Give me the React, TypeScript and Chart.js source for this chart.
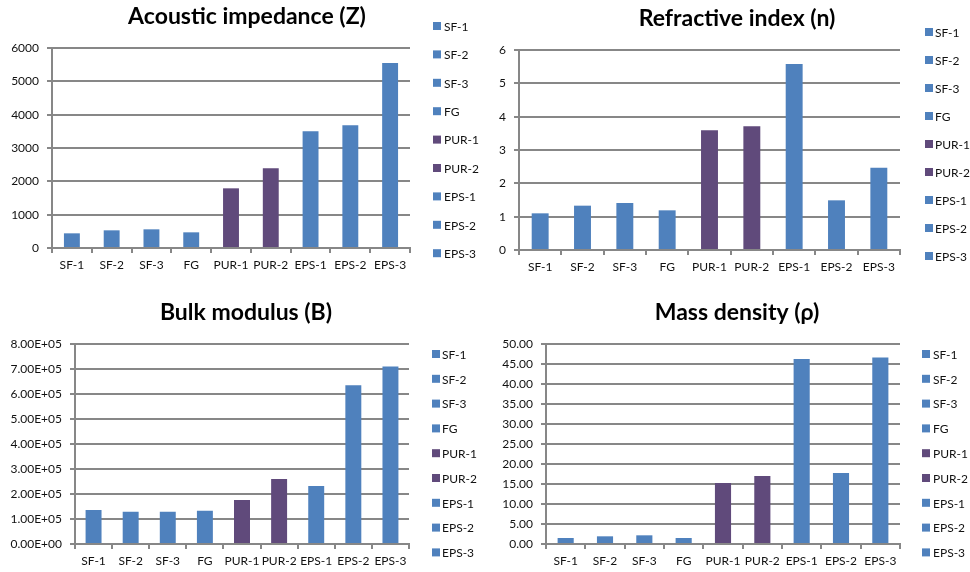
import React, { useEffect, useRef } from "react";
import { Chart, registerables } from "chart.js";

Chart.register(...registerables);

// Samples shown on every panel
const categories = ["SF-1", "SF-2", "SF-3", "FG", "PUR-1", "PUR-2", "EPS-1", "EPS-2", "EPS-3"];

// Measured properties per sample
const acousticImpedance = [440, 530, 560, 470, 1790, 2390, 3500, 3680, 5550];
const refractiveIndex = [1.1, 1.33, 1.41, 1.19, 3.59, 3.71, 5.58, 1.49, 2.47];
const bulkModulus = [1.36e5, 1.29e5, 1.29e5, 1.33e5, 1.76e5, 2.6e5, 2.32e5, 6.35e5, 7.1e5];
const massDensity = [1.5, 1.92, 2.17, 1.5, 15.25, 17.0, 46.25, 17.75, 46.6];

// Value-axis ranges: [min, max, step]
const impedanceAxis = [0, 6000, 1000];
const refractiveAxis = [0, 6, 1];
const bulkAxis = [0, 8e5, 1e5];
const densityAxis = [0, 50, 5];

const BLUE = "#4F81BD";
const PURPLE = "#604A7B";
const GRID = "#878787";
const TEXT = "#111111";
const FONT = "Lato, 'Open Sans', sans-serif";

const barColors = categories.map((c) => (c.startsWith("PUR") ? PURPLE : BLUE));

const W = 485;
const H = 286;

const sci = (v: number) => {
  const [m, e] = v.toExponential(2).split("e");
  const n = parseInt(e, 10);
  return `${m}E${n < 0 ? "-" : "+"}${String(Math.abs(n)).padStart(2, "0")}`;
};

type Panel = {
  title: string;
  values: number[];
  axis: number[];
  format: (v: number) => string;
  area: { left: number; top: number; right: number; bottom: number };
  titleAt: { x: number; y: number };
  legend: { boxX: number; textX: number; y0: number; step: number };
  barPct: number;
  pos: { x: number; y: number };
};

const panels: Panel[] = [
  {
    title: "Acoustic impedance (Z)",
    values: acousticImpedance,
    axis: impedanceAxis,
    format: (v) => String(v),
    area: { left: 52, top: 48, right: 410, bottom: 248 },
    titleAt: { x: 247, y: 17 },
    legend: { boxX: 433, textX: 444, y0: 26, step: 28.4 },
    barPct: 0.4,
    pos: { x: 0, y: 0 },
  },
  {
    title: "Refractive index (n)",
    values: refractiveIndex,
    axis: refractiveAxis,
    format: (v) => String(v),
    area: { left: 34, top: 50, right: 415, bottom: 250 },
    titleAt: { x: 252, y: 19 },
    legend: { boxX: 440, textX: 450, y0: 32, step: 28 },
    barPct: 0.4,
    pos: { x: 485, y: 0 },
  },
  {
    title: "Bulk modulus (B)",
    values: bulkModulus,
    axis: bulkAxis,
    format: sci,
    area: { left: 75, top: 58, right: 409, bottom: 258 },
    titleAt: { x: 246, y: 27 },
    legend: { boxX: 432, textX: 442, y0: 68, step: 24.8 },
    barPct: 0.43,
    pos: { x: 0, y: 286 },
  },
  {
    title: "Mass density (\u03c1)",
    values: massDensity,
    axis: densityAxis,
    format: (v) => v.toFixed(2),
    area: { left: 61, top: 58, right: 415, bottom: 258 },
    titleAt: { x: 252, y: 27 },
    legend: { boxX: 437, textX: 448, y0: 68, step: 24.8 },
    barPct: 0.41,
    pos: { x: 485, y: 286 },
  },
];

function PanelChart({ panel }: { panel: Panel }) {
  const ref = useRef<HTMLCanvasElement | null>(null);

  useEffect(() => {
    if (!ref.current) return;
    const p = panel;

    const decor = {
      id: "panelDecor",
      afterDraw(chart: Chart) {
        const ctx = chart.ctx;
        ctx.save();
        // title
        ctx.fillStyle = "#000";
        ctx.font = `bold 23px ${FONT}`;
        ctx.textAlign = "center";
        ctx.textBaseline = "middle";
        ctx.fillText(p.title, p.titleAt.x, p.titleAt.y);
        // legend, one entry per sample
        ctx.font = `12px ${FONT}`;
        ctx.textAlign = "left";
        const labels = chart.data.labels as string[];
        const colors = chart.data.datasets[0].backgroundColor as string[];
        labels.forEach((label, i) => {
          const y = p.legend.y0 + i * p.legend.step;
          ctx.fillStyle = colors[i];
          ctx.fillRect(p.legend.boxX, y - 4, 8, 8);
          ctx.fillStyle = TEXT;
          ctx.fillText(label, p.legend.textX, y + 1);
        });
        ctx.restore();
      },
    };

    const chart = new Chart(ref.current, {
      type: "bar",
      data: {
        labels: categories,
        datasets: [
          {
            data: p.values,
            backgroundColor: barColors,
            borderWidth: 0,
            barPercentage: p.barPct,
            categoryPercentage: 1,
          },
        ],
      },
      options: {
        responsive: false,
        animation: false,
        layout: {
          padding: { left: 0, top: p.area.top, right: W - p.area.right, bottom: 0 },
        },
        plugins: {
          legend: { display: false },
          title: { display: false },
          tooltip: { enabled: false },
        },
        scales: {
          x: {
            afterFit: (s: any) => {
              s.height = H - p.area.bottom;
            },
            grid: {
              offset: true,
              drawOnChartArea: false,
              drawTicks: true,
              tickLength: 5,
              color: GRID,
              lineWidth: 2,
            },
            border: { display: true, color: GRID, width: 2 },
            ticks: {
              color: TEXT,
              font: { family: FONT, size: 12 },
              padding: 5,
              maxRotation: 0,
              autoSkip: false,
            },
          },
          y: {
            min: p.axis[0],
            max: p.axis[1],
            afterFit: (s: any) => {
              s.width = p.area.left;
            },
            grid: {
              color: GRID,
              lineWidth: 2,
              drawTicks: true,
              tickLength: 5,
            },
            border: { display: true, color: GRID, width: 2 },
            ticks: {
              stepSize: p.axis[2],
              color: TEXT,
              font: { family: FONT, size: 12 },
              padding: 8,
              callback: (v: any) => p.format(Number(v)),
            },
          },
        },
      },
      plugins: [decor],
    });

    return () => chart.destroy();
  }, [panel]);

  return (
    <canvas
      ref={ref}
      width={W}
      height={H}
      style={{ position: "absolute", left: panel.pos.x, top: panel.pos.y, width: W, height: H }}
    />
  );
}

export default function App() {
  return (
    <div style={{ position: "absolute", left: 0, top: 0, width: 970, height: 572, background: "#fff" }}>
      {panels.map((p) => (
        <PanelChart key={p.title} panel={p} />
      ))}
    </div>
  );
}
